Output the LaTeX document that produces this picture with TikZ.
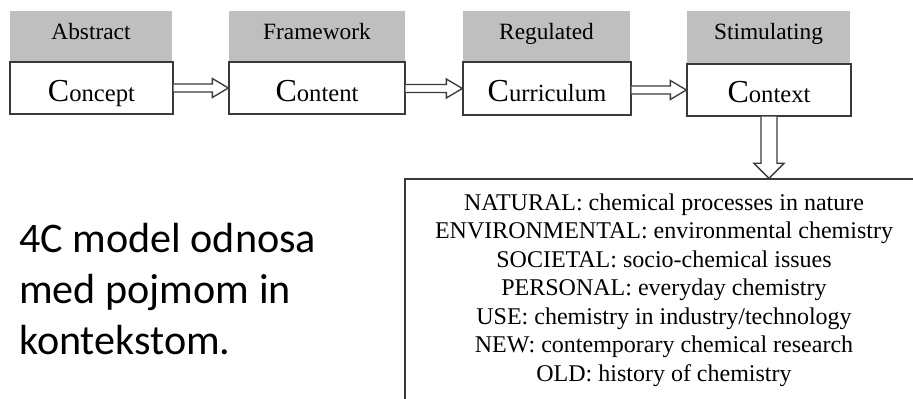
\documentclass[tikz,border=0pt]{standalone}
\usepackage{fontspec}
\setmainfont{Liberation Serif}
\newfontfamily\leftfont{Carlito}
\usetikzlibrary{fit,calc}
\definecolor{boxgray}{HTML}{BFBFBF}
\definecolor{edgecol}{HTML}{3A3A3A}
\newcommand{\harrow}[2]{%
  \draw[blockarrow] ($(#1.east |- #2.west)+(0,-4)$) -- ($(#2.west)+(-16,-4)$)
    -- ($(#2.west)+(-16,-9.5)$) -- (#2.west) -- ($(#2.west)+(-16,9.5)$)
    -- ($(#2.west)+(-16,4)$) -- ($(#1.east |- #2.west)+(0,4)$);}
\newcommand{\bigC}{{\fontsize{24}{26}\selectfont C}}
\begin{document}
\begin{tikzpicture}[x=0.75pt,y=-0.75pt,
  edge/.style={draw=edgecol, line width=1pt},
  graybox/.style={fill=boxgray, inner sep=0pt},
  whitebox/.style={edge, fill=white, inner sep=0pt},
  toplabel/.style={anchor=base, inner sep=0pt, font=\fontsize{17.5}{20}\selectfont},
  mainlabel/.style={anchor=base, inner sep=0pt, font=\fontsize{18.5}{22}\selectfont},
  blockarrow/.style={edge, fill=white, line join=miter}]
\useasboundingbox (0,0) rectangle (913,399);
\clip (0,0) rectangle (913,399);
\fill[white] (0,0) rectangle (913,399);

% grey header boxes
\node[graybox, fit={(10,11) (172,62)}] (gAbs) {};
\node[graybox, fit={(229,11) (405,62)}] (gFra) {};
\node[graybox, fit={(463,11) (630,62)}] (gReg) {};
\node[graybox, fit={(687,11) (850,63)}] (gSti) {};

% white boxes
\node[whitebox, fit={(10,62) (173,114)}] (concept) {};
\node[whitebox, fit={(229,62) (405,114)}] (content) {};
\node[whitebox, fit={(463,62) (631,115)}] (curriculum) {};
\node[whitebox, fit={(687,64) (851,116)}] (context) {};

% header texts
\node[toplabel] (tAbs) at (gAbs.center |- 0,40) {Abstract};
\node[toplabel] (tFra) at (gFra.center |- 0,40) {Framework};
\node[toplabel] (tReg) at (gReg.center |- 0,40) {Regulated};
\node[toplabel] (tSti) at (gSti.center |- 0,40) {Stimulating};

% main texts
\node[mainlabel] (tCon) at (concept.center |- 0,102) {\bigC oncept};
\node[mainlabel] (tCnt) at (content.center |- 0,102) {\bigC ontent};
\node[mainlabel] (tCur) at (curriculum.center |- 0,102) {\bigC urriculum};
\node[mainlabel] (tCtx) at (context.center |- 0,103) {\bigC ontext};

% bottom box
\node[edge, fill=white, inner sep=0pt, fit={(405,179) (930,420)}] (list) {};
\node[align=center, inner sep=0pt, font=\fontsize{18}{21.4}\selectfont] (items) at (664,290)
  {NATURAL: chemical processes in nature\\
   ENVIRONMENTAL: environmental chemistry\\
   SOCIETAL: socio-chemical issues\\
   PERSONAL: everyday chemistry\\
   USE: chemistry in industry/technology\\
   NEW: contemporary chemical research\\
   OLD: history of chemistry};

% left caption (base anchor = last line baseline)
\node[anchor=base west, align=left, inner sep=0pt,
      font=\leftfont\fontsize{31.6}{38.25}\selectfont] (caption) at (19,354)
  {4C model odnosa\\med pojmom in\\kontekstom.};

% block arrows
\harrow{concept}{content}
\harrow{content}{curriculum}
\harrow{curriculum}{context}
\draw[blockarrow] ($(context.south)+(-8,0)$)
  -- ($(context.south |- list.north)+(-8,-15)$)
  -- ($(context.south |- list.north)+(-15,-15)$)
  -- (context.south |- list.north)
  -- ($(context.south |- list.north)+(15,-15)$)
  -- ($(context.south |- list.north)+(8,-15)$)
  -- ($(context.south)+(8,0)$);
\end{tikzpicture}
\end{document}
